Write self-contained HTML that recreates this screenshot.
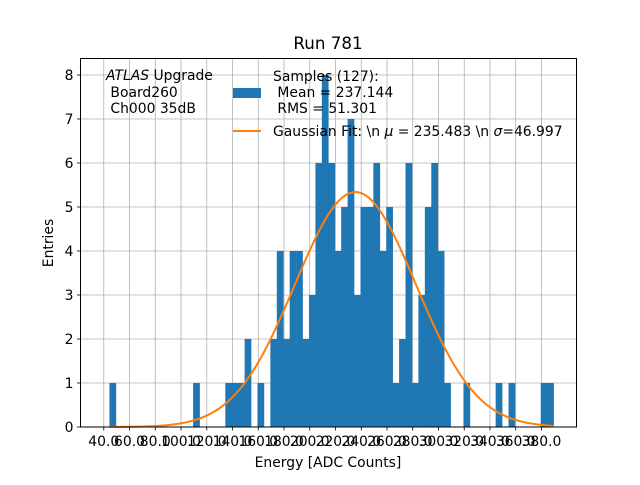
<!DOCTYPE html>
<html><head><meta charset="utf-8"><style>
body{margin:0;background:#fff;}
svg text{font-family:"DejaVu Sans","Liberation Sans",sans-serif;white-space:pre;}
</style></head><body>
<svg id="chart" width="640" height="480" viewBox="0 0 640 480" xmlns="http://www.w3.org/2000/svg">
<rect width="640" height="480" fill="#fff"/>
<g id="grid"></g>
<g id="bars"></g>
<g id="curve"></g>
<rect x="80.5" y="58.5" width="496" height="368.5" fill="none" stroke="#000" stroke-width="1"/>
<g id="axes"></g>
<text x="328" y="49" font-size="16.7" text-anchor="middle">Run 781</text>
<text x="328" y="467" font-size="13.9" text-anchor="middle">Energy [ADC Counts]</text>
<text transform="translate(53,243) rotate(-90)" font-size="13.9" text-anchor="middle">Entries</text>
<g font-size="13.9">
<text x="106" y="80"><tspan font-style="italic">ATLAS</tspan> Upgrade</text>
<text x="106" y="97">&#160;Board260</text>
<text x="106" y="113">&#160;Ch000 35dB</text>
</g>
<g font-size="13.9">
<rect x="233" y="88" width="28" height="10" fill="#1f77b4"/>
<text x="273" y="81">Samples (127):</text>
<text x="273" y="97">&#160;Mean = 237.144</text>
<text x="273" y="113">&#160;RMS = 51.301</text>
<line x1="233" y1="131" x2="261" y2="131" stroke="#ff7f0e" stroke-width="2"/>
<text x="273" y="136">Gaussian Fit: \n <tspan font-style="italic">μ</tspan> = 235.483 \n <tspan font-style="italic">σ</tspan>=46.997</text>
</g>
</svg>
<script>
const binStart = 44.4;
const binWidth = 5;
const counts = [1,0,0,0,0,0,0,0,0,0,0,0,0,1,0,0,0,0,1,1,1,2,0,1,0,2,4,2,4,4,2,3,6,8,6,4,5,7,3,5,5,6,4,5,1,2,6,1,3,5,6,4,1,0,0,1,0,0,0,0,1,0,1,0,0,0,0,1,1];
const xTicks = [40,60,80,100,120,140,160,180,200,220,240,260,280,300,320,340,360,380];
const xTickLabels = ["40.0","60.0","80.0","100.0","120.0","140.0","160.0","180.0","200.0","220.0","240.0","260.0","280.0","300.0","320.0","340.0","360.0","380.0"];
const yTicks = [0,1,2,3,4,5,6,7,8];
const fitMu = 235.483;
const fitSigma = 46.997;
const fitAmp = 5.34;
const fitRange = [44.4, 389.4];

const X0=80.5, X1=576.5, Y0=427, Y1=58.5;
const xMin=21.92, xMax=407.2, yMin=0, yMax=8.375;
function xs(v){return X0+(v-xMin)/(xMax-xMin)*(X1-X0);}
function ys(v){return Y0-(v-yMin)/(yMax-yMin)*(Y0-Y1);}
const NS="http://www.w3.org/2000/svg";
function mk(t,a,p){const e=document.createElementNS(NS,t);for(const k in a)e.setAttribute(k,a[k]);p.appendChild(e);return e;}
const grid=document.getElementById('grid'),bars=document.getElementById('bars'),curve=document.getElementById('curve'),axes=document.getElementById('axes');
xTicks.forEach((t,i)=>{
  const x=xs(t);
  const g=mk('line',{x1:x,x2:x,y1:Y1,y2:Y0,stroke:'#b0b0b0','stroke-width':0.8},grid);
  
  
  const tk=mk('line',{x1:x,x2:x,y1:Y0,y2:Y0+3.5,stroke:'#000','stroke-width':0.8},axes);
  
  
  const lb=mk('text',{x:x,y:Y0+19,'font-size':13.9,'text-anchor':'middle'},axes);
  
  
  lb.textContent=xTickLabels[i];
});
yTicks.forEach(t=>{
  const y=ys(t);
  const g=mk('line',{x1:X0,x2:X1,y1:y,y2:y,stroke:'#b0b0b0','stroke-width':0.8},grid);
  
  
  const tk=mk('line',{x1:X0-3.5,x2:X0,y1:y,y2:y,stroke:'#000','stroke-width':0.8},axes);
  
  
  const lb=mk('text',{x:X0-7,y:y+5,'font-size':13.9,'text-anchor':'end'},axes);
  
  
  lb.textContent=String(t);
});
counts.forEach((c,i)=>{
  if(c<=0)return;
  const a=xs(binStart+i*binWidth),b=xs(binStart+(i+1)*binWidth);
  const r=mk('rect',{x:a,y:ys(c),width:b-a+0.3,height:Y0-ys(c),fill:'#1f77b4'},bars);
  
  
});
let d='';
for(let i=0;i<=200;i++){
  const v=fitRange[0]+(fitRange[1]-fitRange[0])*i/200;
  const yv=fitAmp*Math.exp(-0.5*Math.pow((v-fitMu)/fitSigma,2));
  d+=(i?'L':'M')+xs(v).toFixed(2)+' '+ys(yv).toFixed(2);
}
const p=mk('path',{d:d,fill:'none',stroke:'#ff7f0e','stroke-width':2},curve);


</script>
</body></html>
